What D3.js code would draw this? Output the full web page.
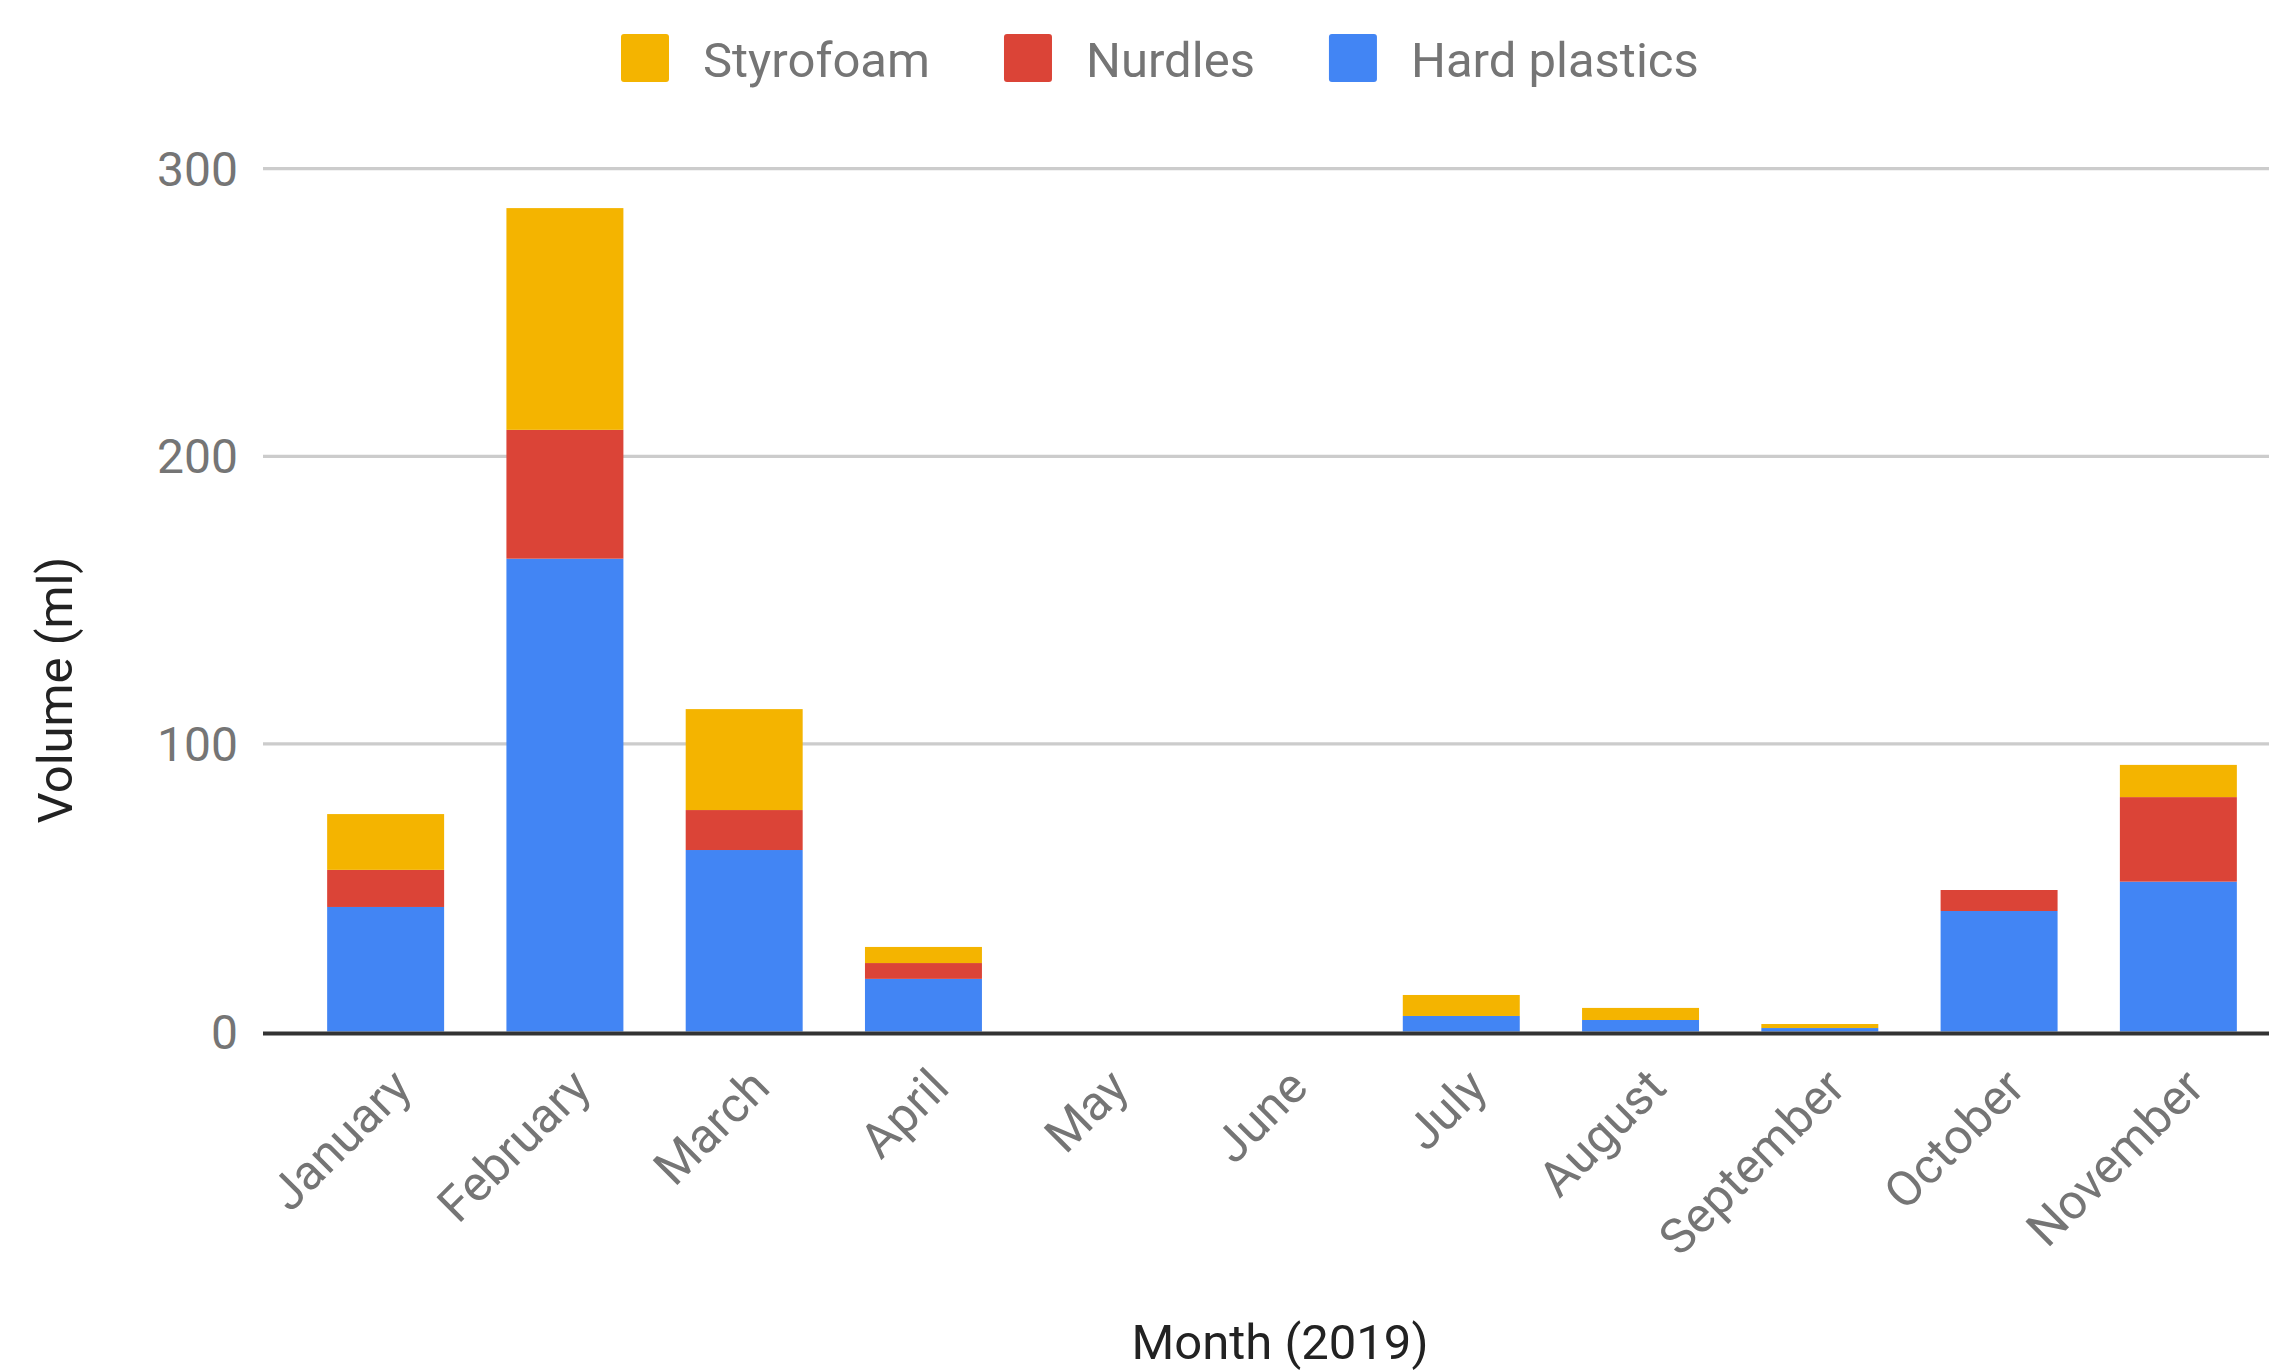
<!DOCTYPE html>
<html lang="en">
<head>
  <meta charset="UTF-8">
  <title>Beach plastics by month (2019)</title>
  <script src="https://d3js.org/d3.v7.min.js"></script>
  <style>
    body {
      margin: 0;
      background: #fff;
      font-family: Roboto, 'Noto Sans', Arial, sans-serif;
    }
    svg { display: block; }
    .tick-label { fill: #757575; font-size: 48px; }
    .x-label { fill: #757575; font-size: 49px; }
    .axis-title { fill: #222; font-size: 49px; }
    .legend-label { fill: #757575; font-size: 49px; }
  </style>
</head>
<body>

<svg width="2269" height="1371"></svg>

<script>
// data
const months = ["January", "February", "March", "April", "May", "June",
                "July", "August", "September", "October", "November"];
const hardPlastics = [43.3, 164.4, 63.1, 18.3, 0, 0, 5.4, 4.0, 1.2, 41.9, 52.1];
const nurdles      = [12.9, 44.8, 13.9, 5.5, 0, 0, 0, 0, 0, 7.3, 29.4];
const styrofoam    = [19.4, 77.1, 35.1, 5.6, 0, 0, 7.3, 4.2, 1.4, 0, 11.2];
const yTicks = [0, 100, 200, 300];

const seriesNames = ["Hard plastics", "Nurdles", "Styrofoam"];
const seriesColors = {
  "Hard plastics": "#4285f4",
  "Nurdles": "#db4437",
  "Styrofoam": "#f4b400"
};
const legendOrder = ["Styrofoam", "Nurdles", "Hard plastics"];

const rows = months.map((m, i) => ({
  month: m,
  "Hard plastics": hardPlastics[i],
  "Nurdles": nurdles[i],
  "Styrofoam": styrofoam[i]
}));

const svg = d3.select("svg");
const plotLeft = 263, plotRight = 2269;

const x = d3.scaleBand()
  .domain(months)
  .range([296, 2268])
  .paddingInner(0.3475)
  .paddingOuter(0.17375);

const y = d3.scaleLinear()
  .domain([0, 300])
  .range([1031.5, 168.7]);

// gridlines
svg.append("g")
  .selectAll("line")
  .data(yTicks.filter(d => d > 0))
  .join("line")
  .attr("x1", plotLeft)
  .attr("x2", plotRight)
  .attr("y1", d => y(d))
  .attr("y2", d => y(d))
  .attr("stroke", "#cccccc")
  .attr("stroke-width", 3.3);

// y tick labels
svg.append("g")
  .selectAll("text")
  .data(yTicks)
  .join("text")
  .attr("class", "tick-label")
  .attr("x", 238)
  .attr("y", d => y(d) + 17)
  .attr("text-anchor", "end")
  .text(d => d);

// stacked bars
const stacked = d3.stack().keys(seriesNames)(rows);

svg.append("g")
  .selectAll("g")
  .data(stacked)
  .join("g")
  .attr("fill", s => seriesColors[s.key])
  .selectAll("rect")
  .data(s => s.filter(d => d[1] - d[0] > 0))
  .join("rect")
  .attr("x", d => x(d.data.month))
  .attr("width", x.bandwidth())
  .attr("y", d => y(d[1]))
  .attr("height", d => y(d[0]) - y(d[1]));

// baseline
svg.append("line")
  .attr("x1", plotLeft)
  .attr("x2", plotRight)
  .attr("y1", y(0) + 2)
  .attr("y2", y(0) + 2)
  .attr("stroke", "#333333")
  .attr("stroke-width", 4);

// x labels, rotated
svg.append("g")
  .selectAll("text")
  .data(months)
  .join("text")
  .attr("class", "x-label")
  .attr("text-anchor", "end")
  .attr("transform", d => `translate(${x(d) + x.bandwidth() / 2 + 28},1090) rotate(-45)`)
  .text(d => d);

// axis titles
svg.append("text")
  .attr("class", "axis-title")
  .attr("x", 1280)
  .attr("y", 1359)
  .attr("text-anchor", "middle")
  .text("Month (2019)");

svg.append("text")
  .attr("class", "axis-title")
  .attr("text-anchor", "middle")
  .attr("transform", "translate(72,690) rotate(-90)")
  .text("Volume (ml)");

// legend
const legend = svg.append("g");
let lx = 621;
legendOrder.forEach(name => {
  legend.append("rect")
    .attr("x", lx)
    .attr("y", 34)
    .attr("width", 48)
    .attr("height", 48)
    .attr("rx", 3)
    .attr("fill", seriesColors[name]);
  const t = legend.append("text")
    .attr("class", "legend-label")
    .attr("x", lx + 82)
    .attr("y", 77)
    .text(name);
  lx += 82 + t.node().getComputedTextLength() + 74;
});
</script>

</body>
</html>
